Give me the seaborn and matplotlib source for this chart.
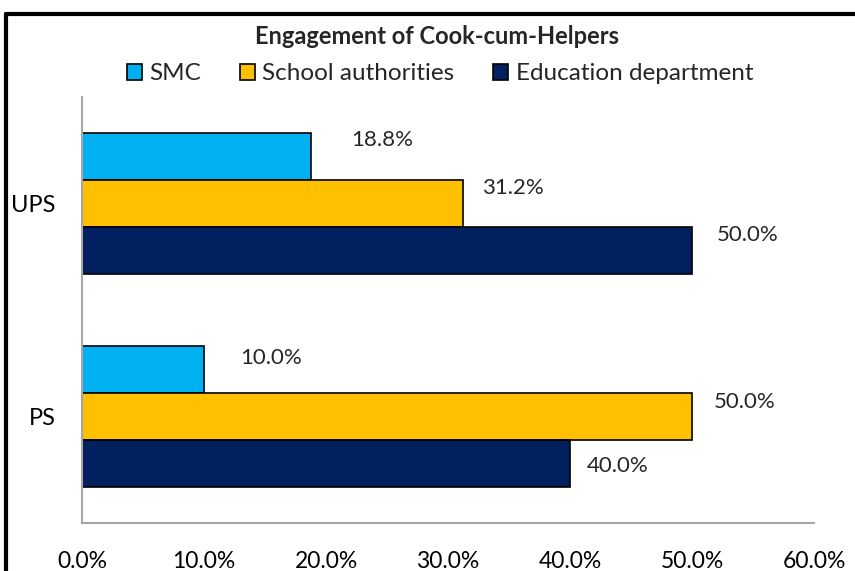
import matplotlib
matplotlib.use("Agg")
import matplotlib.pyplot as plt
from matplotlib.lines import Line2D
from matplotlib.ticker import PercentFormatter
import pandas as pd
import seaborn as sns

# --- data ---
levels = ["UPS", "PS"]
agencies = ["SMC", "School authorities", "Education department"]
ups_share = [18.8, 31.2, 50.0]
ps_share = [10.0, 50.0, 40.0]
colors = ["#00B0F0", "#FFC000", "#002060"]

df = pd.DataFrame({
    "Level": [lv for lv in levels for _ in agencies],
    "Agency": agencies * len(levels),
    "Share": [v / 100 for v in ups_share + ps_share],
})

sns.set_style("white")
plt.rcParams["font.family"] = ["Lato", "DejaVu Sans"]

fig = plt.figure(figsize=(8.55, 5.71), dpi=100)
ax = fig.add_axes([82 / 855, 1 - 523 / 571, (814 - 82) / 855, (523 - 97) / 571])

sns.barplot(
    data=df, y="Level", x="Share", hue="Agency",
    order=levels, hue_order=agencies, palette=colors, saturation=1,
    orient="h", width=0.66, edgecolor="black", linewidth=1.2,
    legend=False, ax=ax,
)

ax.set_xlim(0, 0.6)
ax.set_ylim(1.5, -0.5)
ax.set_xticks([0, 0.1, 0.2, 0.3, 0.4, 0.5, 0.6])
ax.xaxis.set_major_formatter(PercentFormatter(1.0, decimals=1))
ax.tick_params(axis="x", length=0, labelsize=16.5, colors="black", pad=20)
ax.tick_params(axis="y", length=0, labelsize=17, colors="black", pad=19)
ax.set_xlabel("")
ax.set_ylabel("")
for side in ["top", "right"]:
    ax.spines[side].set_visible(False)
for side in ["left", "bottom"]:
    ax.spines[side].set_color("#A6A6A6")
    ax.spines[side].set_linewidth(1.5)

# data labels, nudged like the original excel layout (pixels)
nudges = [(40, 17), (19, 16), (25, 15), (36, 12), (22, 15), (17, -3)]
ordered = []
for i in range(len(levels)):
    for c in ax.containers:
        ordered.append(c.patches[i])
for patch, val, (dx, dy) in zip(ordered, ups_share + ps_share, nudges):
    ax.annotate(f"{val:.1f}%",
                xy=(patch.get_width(), patch.get_y() + patch.get_height() / 2),
                xytext=(dx, dy), textcoords="offset pixels",
                ha="left", va="center", fontsize=16)

fig.text(437 / 855, 1 - 36 / 571, "Engagement of Cook-cum-Helpers",
         ha="center", va="center", fontsize=17, fontweight="bold")

handles = [plt.Rectangle((0, 0), 1, 1, facecolor=c, edgecolor="black", linewidth=1.2)
           for c in colors]
fig.legend(handles, agencies, loc="center", bbox_to_anchor=(440 / 855, 1 - 74 / 571),
           ncol=3, frameon=False, fontsize=17.5, handlelength=0.62, handleheight=0.62,
           handletextpad=0.3, columnspacing=1.6, borderpad=0, borderaxespad=0)

# chart-area border (left and top edges visible in the crop)
fig.add_artist(Line2D([6 / 855, 6 / 855], [0, 1 - 14 / 571], color="black", lw=3,
                      transform=fig.transFigure))
fig.add_artist(Line2D([6 / 855, 1], [1 - 14 / 571, 1 - 14 / 571], color="black", lw=3,
                      transform=fig.transFigure))

fig.savefig("out.png", dpi=100)
